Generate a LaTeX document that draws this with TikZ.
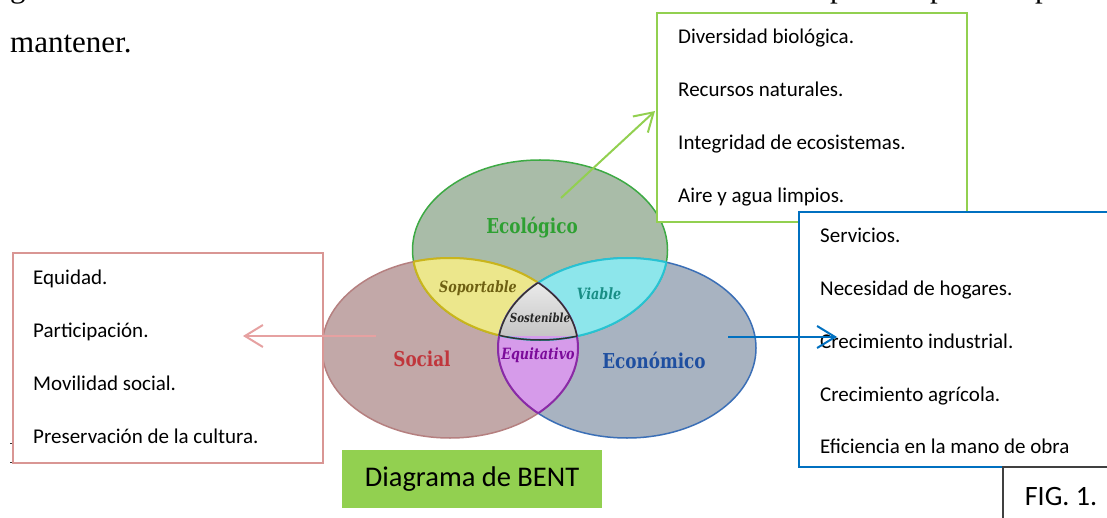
\documentclass[tikz,border=0pt]{standalone}
\usepackage{fontspec}
\setmainfont{Carlito}
\newfontfamily\timesfont{Liberation Serif}
\newfontfamily\vennfont[FakeStretch=0.82]{DejaVu Serif}
\usetikzlibrary{arrows.meta}
\definecolor{eco-fill}{HTML}{A9BCA8}
\definecolor{eco-line}{HTML}{3DAA44}
\definecolor{eco-text}{HTML}{2EA032}
\definecolor{soc-fill}{HTML}{C2A8A8}
\definecolor{soc-line}{HTML}{B58080}
\definecolor{soc-text}{HTML}{C0363C}
\definecolor{econ-fill}{HTML}{A8B3C1}
\definecolor{econ-line}{HTML}{3B6FB6}
\definecolor{econ-text}{HTML}{1F4FA0}
\definecolor{sop-fill}{HTML}{ECE78C}
\definecolor{sop-line}{HTML}{C9B51C}
\definecolor{sop-text}{HTML}{6E6012}
\definecolor{via-fill}{HTML}{8DE6EB}
\definecolor{via-line}{HTML}{27C3D3}
\definecolor{via-text}{HTML}{198E85}
\definecolor{equi-fill}{HTML}{D69BEA}
\definecolor{equi-line}{HTML}{8A2AA6}
\definecolor{equi-text}{HTML}{7B0A9A}
\definecolor{box-green}{HTML}{92D050}
\definecolor{box-blue}{HTML}{0070C0}
\definecolor{box-red}{HTML}{D99694}
\definecolor{arrow-red}{HTML}{E6A1A1}
\def\ecoellipse{(540,250) ellipse (127.5pt and 90pt)}
\def\socellipse{(450,348) ellipse (128pt and 90pt)}
\def\econellipse{(627,348) ellipse (129pt and 90pt)}
\tikzset{
  serifline/.style={anchor=base west, inner sep=0pt, font=\timesfont\fontsize{31}{36}\selectfont},
  listline/.style={anchor=base west, inner sep=0pt, font=\fontsize{21}{25}\selectfont},
  bigword/.style={font=\vennfont\bfseries\fontsize{20.5}{22}\selectfont},
  smallword/.style={font=\vennfont\bfseries\itshape\fontsize{15.5}{18}\selectfont},
  listarrow/.style={line width=2pt, -{Straight Barb[length=18pt, width=22pt, line width=2pt]}}
}
\begin{document}
\begin{tikzpicture}[x=1pt, y=-1pt]
  \useasboundingbox (0,0) rectangle (1107,518);
  \node[serifline] (line-g) at (10,-2) {g};
  \node[serifline] (line-p1) at (830,-2) {p};
  \node[serifline] (line-p2) at (930,-2) {p};
  \node[serifline] (line-p3) at (1035,-2) {p};
  \node[serifline] (mantener) at (10,53) {mantener.};
  \draw[black!80, line width=1pt] (10,443) -- (13,443) (10,462) -- (13,462);

  \fill[eco-fill] \ecoellipse;
  \fill[soc-fill] \socellipse;
  \fill[econ-fill] \econellipse;
  \draw[eco-line, line width=1.5pt] \ecoellipse;
  \draw[soc-line, line width=1.5pt] \socellipse;
  \draw[econ-line, line width=1.5pt] \econellipse;
  \begin{scope}
    \clip \ecoellipse;
    \fill[sop-fill] \socellipse;
    \draw[sop-line, line width=2pt] \socellipse;
    \fill[via-fill] \econellipse;
    \draw[via-line, line width=2pt] \econellipse;
  \end{scope}
  \begin{scope}
    \clip \socellipse;
    \draw[sop-line, line width=2pt] \ecoellipse;
    \fill[equi-fill] \econellipse;
    \draw[equi-line, line width=2pt] \econellipse;
  \end{scope}
  \begin{scope}
    \clip \econellipse;
    \draw[via-line, line width=2pt] \ecoellipse;
    \draw[equi-line, line width=2pt] \socellipse;
  \end{scope}
  \begin{scope}
    \clip \ecoellipse;
    \clip \socellipse;
    \clip \econellipse;
    \shade[top color=gray!12, bottom color=gray!45] (495,275) rectangle (585,335);
  \end{scope}
  \begin{scope}
    \clip \ecoellipse;
    \clip \socellipse;
    \draw[gray!40!black, line width=1.5pt] \econellipse;
  \end{scope}
  \begin{scope}
    \clip \ecoellipse;
    \clip \econellipse;
    \draw[gray!40!black, line width=1.5pt] \socellipse;
  \end{scope}
  \begin{scope}
    \clip \socellipse;
    \clip \econellipse;
    \draw[gray!40!black, line width=1.5pt] \ecoellipse;
  \end{scope}

  \node[bigword, eco-text] (ecologico) at (532,228) {Ecológico};
  \node[bigword, soc-text] (social) at (422,359) {Social};
  \node[bigword, econ-text] (economico) at (654,360) {Económico};
  \node[smallword, sop-text] (soportable) at (478,288) {Soportable};
  \node[smallword, via-text] (viable) at (599,294) {Viable};
  \node[smallword, equi-text] (equitativo) at (538,355) {Equitativo};
  \node[smallword, black!85, font=\vennfont\bfseries\itshape\fontsize{12.5}{14}\selectfont] (sostenible) at (540,318) {Sostenible};

  \draw[box-green, fill=white, line width=2pt] (657,13) rectangle (967,222);
  \draw[box-blue, fill=white, line width=2pt] (799,212) rectangle (1115,467);
  \draw[box-red, fill=white, line width=2pt] (13,253) rectangle (323,463);
  \foreach \t [count=\i] in {Diversidad biológica., Recursos naturales., Integridad de ecosistemas., Aire y agua limpios.}
    \node[listline] (eco-\i) at (678,{44+52.7*(\i-1)}) {\t};
  \foreach \t [count=\i] in {Equidad., Participación., Movilidad social., Preservación de la cultura.}
    \node[listline] (soc-\i) at (33,{285+52.7*(\i-1)}) {\t};
  \foreach \t [count=\i] in {Servicios., Necesidad de hogares., Crecimiento industrial., Crecimiento agrícola., Eficiencia en la mano de obra}
    \node[listline] (econ-\i) at (820,{243+52.7*(\i-1)}) {\t};

  \coordinate (eco-start) at (561,198);
  \coordinate (eco-tip) at (655,111);
  \coordinate (soc-start) at (376,336);
  \coordinate (soc-tip) at (243,336);
  \coordinate (econ-start) at (728,337);
  \coordinate (econ-tip) at (837,337);
  \draw[listarrow, box-green] (eco-start) -- (eco-tip);
  \draw[listarrow, arrow-red] (soc-start) -- (soc-tip);
  \draw[listarrow, box-blue] (econ-start) -- (econ-tip);

  \node[fill=box-green, minimum width=260pt, minimum height=58pt, font=\fontsize{28.5}{32}\selectfont] (bent) at (472,479) {Diagrama de BENT};
  \draw[black!75, line width=1.5pt] (1003,530) -- (1003,467) -- (1115,467);
  \node[font=\fontsize{28}{32}\selectfont] (fig) at (1061,497) {FIG. 1.};
\end{tikzpicture}
\end{document}
